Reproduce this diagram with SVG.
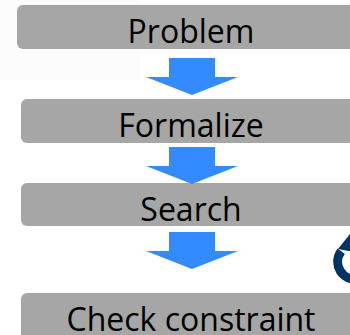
<svg xmlns="http://www.w3.org/2000/svg" width="350" height="335" viewBox="0 0 350 335">
  <defs>
    <style>
      .step rect { fill: #a6a6a6; }
      .step text { font-family: "Open Sans", "Noto Sans", sans-serif; font-size: 32px; fill: #000; text-anchor: middle; }
      .flow { fill: #338bff; }
    </style>
    <!-- downward block arrow, tip at origin -->
    <polygon id="down" points="-23,-37 23,-37 23,-18 46,-18 0,0 -46,-18 -23,-18"/>
  </defs>
  <rect width="350" height="335" fill="#ffffff"/>
  <rect width="140" height="80" fill="#fcfcfc"/>

  <g id="problem" class="step">
    <rect x="17" y="5" width="360" height="44" rx="6"/>
    <text x="191" y="43">Problem</text>
  </g>
  <g id="formalize" class="step">
    <rect x="21" y="99" width="360" height="44" rx="6"/>
    <text x="191" y="137">Formalize</text>
  </g>
  <g id="search" class="step">
    <rect x="21" y="183" width="360" height="43" rx="6"/>
    <text x="191" y="221">Search</text>
  </g>
  <g id="check" class="step">
    <rect x="21" y="293" width="360" height="60" rx="6"/>
    <text x="191" y="331">Check constraint</text>
  </g>

  <g id="connectors" class="flow">
    <use href="#down" x="192" y="95"/>
    <use href="#down" x="192" y="184"/>
    <use href="#down" x="192" y="269"/>
  </g>

  <!-- loop-back mark at the right edge -->
  <g id="loop">
    <path d="M341.2,251.2 A17.5,17.5 0 0,0 358,279" fill="none" stroke="#003366" stroke-width="9"/>
    <polygon points="350,234 338,249 354,252" fill="#003366"/>
  </g>
</svg>
